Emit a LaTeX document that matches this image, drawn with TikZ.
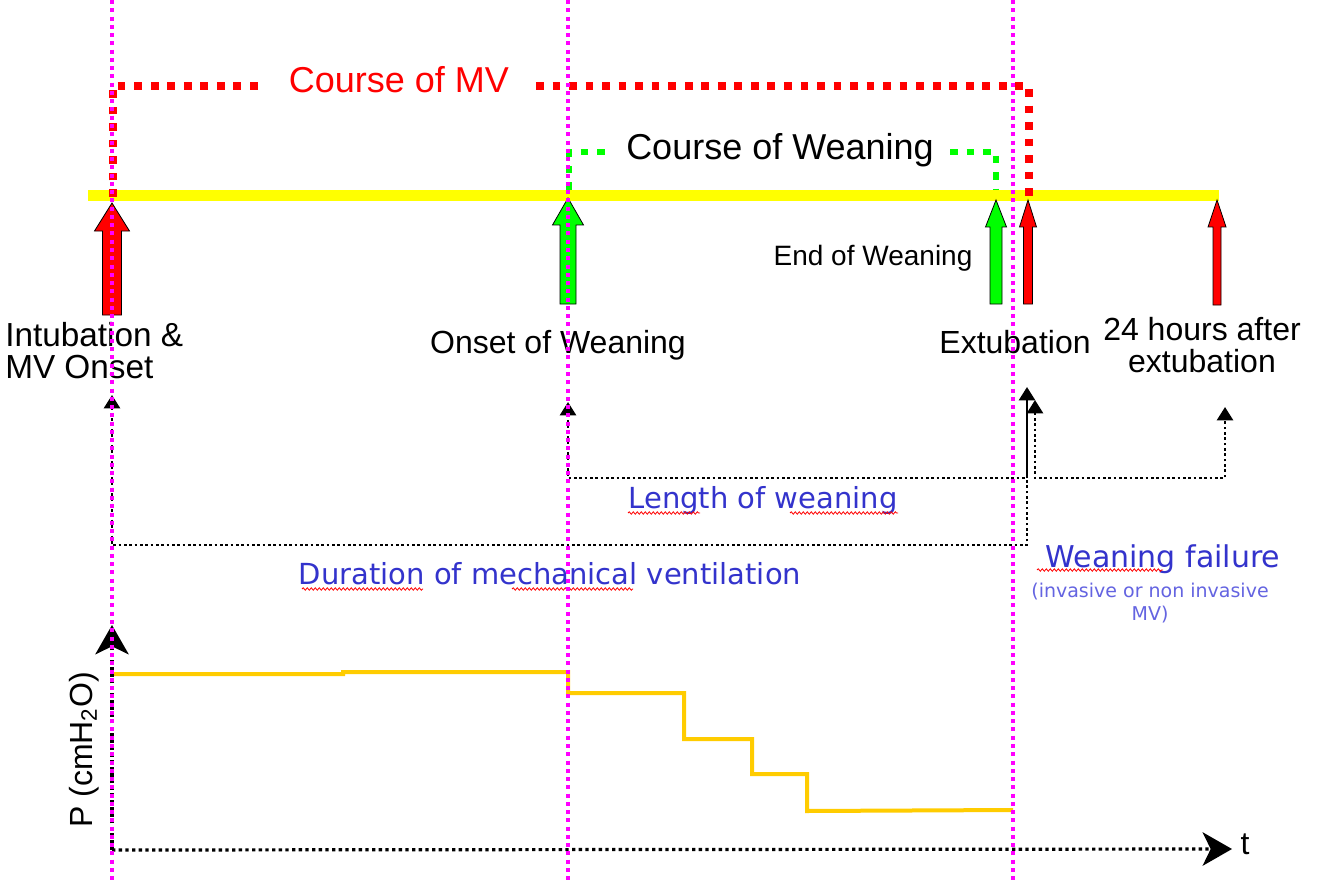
\documentclass[tikz,border=0pt]{standalone}
\usepackage{fontspec}
\setmainfont{Liberation Sans}
\newfontfamily\verdana{DejaVu Sans}
\usetikzlibrary{arrows.meta,decorations.pathmorphing}

\definecolor{mvred}{RGB}{255,0,0}
\definecolor{wngreen}{RGB}{0,255,0}
\definecolor{guide}{RGB}{255,0,255}
\definecolor{band}{RGB}{255,255,0}
\definecolor{pcurve}{RGB}{255,204,0}
\definecolor{noteblue}{RGB}{51,51,204}
\definecolor{noteblue2}{RGB}{100,100,225}

\tikzset{
	guideline/.style={guide,line width=2.6pt,dash pattern=on 3pt off 3.2pt},
	courseline/.style={line width=5.8pt,dash pattern=on 5.8pt off 6.6pt},
	blackdots/.style={black,line width=1.9pt,dash pattern=on 1.9pt off 2.1pt},
	axisdots/.style={black,line width=2.4pt,dash pattern=on 2.5pt off 2.5pt},
	smalltip/.tip={Triangle[length=10pt,width=12pt]},
	axistip/.tip={Stealth[length=22pt,width=25pt,inset=6pt]},
	squiggle/.style={red,line width=0.6pt,decorate,decoration={snake,amplitude=0.9pt,segment length=3pt}}
}

\begin{document}
\begin{tikzpicture}[x=0.75pt,y=-0.75pt]
	\path[use as bounding box,fill=white] (0,0) rectangle (1326,884);

	% time line
	\draw[band,line width=8.25pt] (88,195.5) -- (1219,195.5);

	% course of MV and course of weaning
	\begin{scope}[every node/.style={font=\fontsize{27}{30}\selectfont,anchor=base}]
		\node (mvtext) [mvred,inner xsep=20pt] at (399,93) {Course of MV};
		\node (wntext) [inner xsep=12pt] at (780,160) {Course of Weaning};
	\end{scope}
	\coordinate (mvleft) at (113,86);
	\coordinate (mvright) at (1029,86);
	\coordinate (wnleft) at (569,152);
	\coordinate (wnright) at (996,152);
	\draw[courseline,mvred] (113,197) -- (mvleft) -- (mvtext.west |- mvleft);
	\draw[courseline,mvred] (mvtext.east |- mvright) -- (mvright) -- (1029,200);
	\draw[courseline,wngreen,line width=5.2pt] (569,190) -- (wnleft) -- (wntext.west |- wnleft);
	\draw[courseline,wngreen,line width=5.2pt] (wntext.east |- wnright) -- (wnright) -- (996,190);

	% event arrows
	\foreach \x/\ptip/\pbase/\pend/\phead/\pshaft/\pcol in {112/203/231/315/17.5/9.5/mvred,
		568/198/225/304/15.5/8/wngreen, 996/200/227/304/10.5/6/wngreen,
		1028/200/227/304/8.5/4.5/mvred, 1217/200/227/305/9/4/mvred}
		\draw[fill=\pcol,line width=0.6pt] (\x,\ptip) -- (\x+\phead,\pbase) -- (\x+\pshaft,\pbase)
			-- (\x+\pshaft,\pend) -- (\x-\pshaft,\pend) -- (\x-\pshaft,\pbase) -- (\x-\phead,\pbase) -- cycle;

	% event labels
	\begin{scope}[every node/.style={font=\fontsize{24}{22.5}\selectfont,anchor=base,inner sep=0pt}]
		\node (intub) [anchor=base west,align=left,font=\fontsize{25}{24}\selectfont] at (5,378) {Intubation \&\\MV Onset};
		\node (onsetwn) at (558,353) {Onset of Weaning};
		\node (endwn) [font=\fontsize{21}{24}\selectfont] at (873,265) {End of Weaning};
		\node (extub) at (1015,353) {Extubation};
		\node (after24) [align=center,font=\fontsize{24}{24}\selectfont] at (1202,372) {24 hours after\\extubation};
	\end{scope}

	% durations
	\coordinate (durend) at (1027,478);
	\draw[blackdots,{smalltip}-] (112,395) -- (112,545) -- (1027,545) -- (durend);
	\draw[blackdots,{smalltip}-] (568,402) -- (568,478) -- (durend);
	\draw[black,line width=1.9pt,-{smalltip}] (durend) -- (1027,387);
	\draw[blackdots,{smalltip}-{smalltip}] (1035,400) -- (1035,478) -- (1225,478) -- (1225,407);

	\begin{scope}[every node/.style={font=\verdana\fontsize{21.75}{24}\selectfont,noteblue,anchor=base,inner sep=0pt}]
		\node (lenwn) at (763,508) {Length of weaning};
		\node (durmv) at (550,584) {Duration of mechanical ventilation};
		\node (wnfail) [font=\verdana\fontsize{22.5}{24}\selectfont] at (1163,567) {Weaning failure};
		\node (wnnote) [align=center,text=noteblue2,font=\verdana\fontsize{14.25}{17.25}\selectfont] at (1150,620) {(invasive or non invasive\\MV)};
	\end{scope}
	\draw[squiggle] (628,513) -- (700,513);
	\draw[squiggle] (790,513) -- (898,513);
	\draw[squiggle] (302,589) -- (423,589);
	\draw[squiggle] (512,589) -- (633,589);
	\draw[squiggle] (1037,570) -- (1163,570);

	% pressure
	\draw[pcurve,line width=3pt] (112,674) -- (343,674) -- (343,672) -- (568,672) -- (568,693) -- (684,693)
		-- (684,739) -- (752,739) -- (752,774) -- (807,774) -- (807,811) -- (1013,810);

	% axes
	\coordinate (origin) at (112,850);
	\coordinate (ptop) at (112,625);
	\coordinate (tend) at (1232,849);
	\draw[axisdots,-{axistip}] (origin) -- (ptop);
	\draw[axisdots,-{axistip}] (origin) -- (tend);
	\node (plabel) [rotate=90,anchor=base,inner sep=0pt,font=\fontsize{24}{24}\selectfont] at (92,750) {P (cmH\textsubscript{2}O)};
	\node (tlabel) [anchor=base,inner sep=0pt,font=\fontsize{24}{24}\selectfont] at (1245,854) {t};

	% event guides
	\foreach \x in {112,568,1013}
		\draw[guideline] (\x,0) -- (\x,884);
\end{tikzpicture}
\end{document}
